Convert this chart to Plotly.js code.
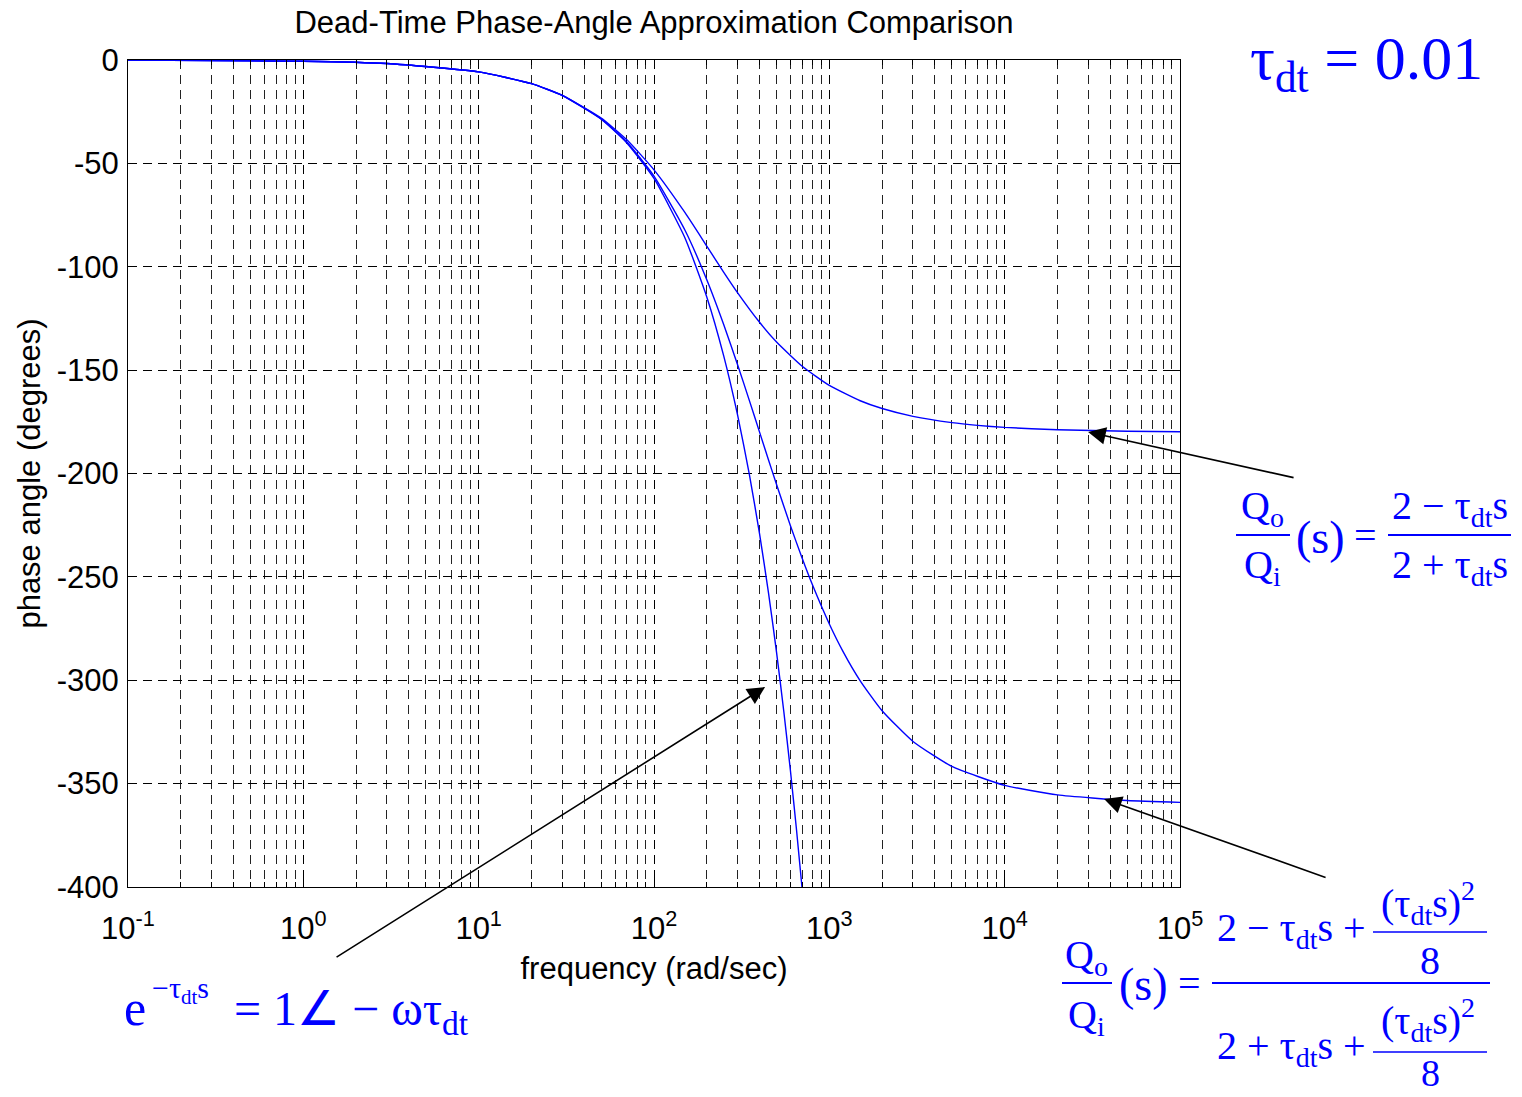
<!DOCTYPE html>
<html>
<head>
<meta charset="utf-8">
<script src="https://cdn.plot.ly/plotly-3.0.1.min.js"></script>
<style>
  html, body { margin: 0; padding: 0; background: #fff; }
  #chart { width: 1522px; height: 1097px; }
</style>
</head>
<body>
<div id="chart"></div>
<script>
// Frequency (rad/sec) and phase angle (degrees) for tau_dt = 0.01

// exact dead time: e^(-tau s)
const freqExact  = [0.1, 1, 3, 10, 20, 30, 50, 70, 100, 150, 200, 250, 300, 350, 400, 450, 500, 550, 600, 650, 700];
const phaseExact = [-0.057, -0.573, -1.719, -5.73, -11.46, -17.19, -28.65, -40.11, -57.30, -85.94, -114.59,
                    -143.24, -171.89, -200.54, -229.18, -257.83, -286.48, -315.13, -343.77, -372.42, -401.07];

// first-order approximation (2 - tau s)/(2 + tau s)
const freqPade1  = [0.1, 1, 3, 10, 20, 30, 50, 70, 100, 150, 200, 250, 300, 400, 500, 700, 1000, 1500, 2000,
                    3000, 5000, 7000, 1e4, 2e4, 5e4, 1e5];
const phasePade1 = [-0.057, -0.573, -1.719, -5.725, -11.421, -17.061, -28.072, -38.580, -53.130, -73.740, -90.000,
                    -102.680, -112.620, -126.870, -136.397, -148.108, -157.380, -164.810, -168.578,
                    -172.371, -175.419, -176.727, -177.710, -178.854, -179.542, -179.771];

// second-order approximation
const freqPade2  = [0.1, 1, 3, 10, 20, 30, 50, 70, 100, 150, 200, 250, 300, 350, 400, 450, 500, 600, 700, 800,
                    1000, 1200, 1500, 2000, 3000, 5000, 1e4, 2e4, 5e4, 1e5];
const phasePade2 = [-0.057, -0.573, -1.719, -5.728, -11.450, -17.157, -28.500, -39.705, -56.145, -82.22, -106.26,
                    -128.03, -147.48, -164.74, -180.00, -193.46, -205.36, -225.24, -241.02, -253.74,
                    -272.79, -286.26, -300.27, -314.75, -329.61, -341.69, -350.84, -355.42, -358.17, -359.08];

// axis ticks
const xTickVals = [0.1, 1, 10, 100, 1000, 10000, 100000];
const xTickText = ['10<sup>-1</sup>', '10<sup>0</sup>', '10<sup>1</sup>', '10<sup>2</sup>',
                   '10<sup>3</sup>', '10<sup>4</sup>', '10<sup>5</sup>'];
const yTickVals = [0, -50, -100, -150, -200, -250, -300, -350, -400];
const yTickText = ['0', '-50', '-100', '-150', '-200', '-250', '-300', '-350', '-400'];

// minor log grid positions 2..9 in each decade
const xMinorVals = [];
for (let d = -1; d < 5; d++) {
  for (let k = 2; k <= 9; k++) xMinorVals.push(k * Math.pow(10, d));
}

const SANS = 'Liberation Sans, Arial, Helvetica, sans-serif';
const SERIF = 'Liberation Serif, Times New Roman, serif';
const BLUE = '#0000ff';
const DASH = '9px,6px';
const FS = 31;

// plot area in page pixels
const PL = 128, PR = 1180, PT = 60, PB = 887;
const px = x => (x - PL) / (PR - PL);
const py = y => (PB - y) / (PB - PT);

const lineStyle = { color: BLUE, width: 1.4, shape: 'spline', smoothing: 0.5 };
const traces = [
  { x: freqExact, y: phaseExact, type: 'scatter', mode: 'lines', line: lineStyle, hoverinfo: 'x+y' },
  { x: freqPade1, y: phasePade1, type: 'scatter', mode: 'lines', line: lineStyle, hoverinfo: 'x+y' },
  { x: freqPade2, y: phasePade2, type: 'scatter', mode: 'lines', line: lineStyle, hoverinfo: 'x+y' }
];

function mathText(text, x, y, size, xanchor) {
  return {
    xref: 'paper', yref: 'paper', x: px(x), y: py(y), text: text,
    showarrow: false, xanchor: xanchor || 'center', yanchor: 'middle',
    font: { family: SERIF, size: size, color: BLUE }
  };
}
function bar(x0, x1, y, w) {
  return {
    type: 'line', xref: 'paper', yref: 'paper', x0: px(x0), x1: px(x1), y0: py(y), y1: py(y),
    line: { color: BLUE, width: w || 2 }
  };
}
function arrow(freq, phase, ax, ay) {
  return {
    x: Math.log10(freq), y: phase, xref: 'x', yref: 'y', text: '', showarrow: true,
    arrowhead: 2, arrowsize: 2.2, arrowwidth: 1.6, arrowcolor: 'black', ax: ax, ay: ay
  };
}

const annotations = [
  // arrows pointing at the three curves
  arrow(29900, -179.9, 207, 46),
  arrow(36900, -357.4, 223, 79),
  arrow(430, -303.3, -430, 271),

  // tau value
  mathText('τ<sub>dt</sub> = 0.01', 1366, 62, 62),

  // first-order transfer function
  mathText('Q<sub>o</sub>', 1262, 508, 40),
  mathText('Q<sub>i</sub>', 1262, 567, 40),
  mathText('(s)', 1320, 537, 46),
  mathText('=', 1365, 535, 40),
  mathText('2 − τ<sub>dt</sub>s', 1450, 508, 40),
  mathText('2 + τ<sub>dt</sub>s', 1450, 567, 40),

  // second-order transfer function
  mathText('Q<sub>o</sub>', 1086, 957, 40),
  mathText('Q<sub>i</sub>', 1086, 1017, 40),
  mathText('(s)', 1143, 985, 46),
  mathText('=', 1189, 983, 40),
  mathText('2 − τ<sub>dt</sub>s +', 1215, 930, 40, 'left'),
  mathText('(τ<sub>dt</sub>s)<sup>2</sup>', 1428, 903, 40),
  mathText('8', 1430, 960, 40),
  mathText('2 + τ<sub>dt</sub>s +', 1215, 1048, 40, 'left'),
  mathText('(τ<sub>dt</sub>s)<sup>2</sup>', 1428, 1020, 40),
  mathText('8', 1430, 1073, 38),

  // dead-time expression
  mathText('e', 122, 1008, 50, 'left'),
  mathText('−τ<sub>dt</sub>s', 150, 990, 30, 'left'),
  mathText('= 1∠ − ωτ<sub>dt</sub>', 232, 1012, 48, 'left')
];

const shapes = [
  bar(1236, 1290, 535), bar(1388, 1511, 535),
  bar(1062, 1112, 983), bar(1212, 1490, 983),
  bar(1373, 1487, 932, 1.5), bar(1373, 1487, 1052, 1.5)
];

const axisCommon = {
  showline: true, linecolor: 'black', linewidth: 1, mirror: 'ticks',
  ticks: 'inside', ticklen: 9, tickcolor: 'black', tickwidth: 1,
  showgrid: true, gridcolor: 'black', gridwidth: 1, griddash: DASH,
  zeroline: false, tickfont: { family: SANS, size: FS, color: 'black' }
};

const layout = {
  width: 1522, height: 1097,
  margin: { l: PL, r: 1522 - PR, t: PT, b: 1097 - PB, pad: 0 },
  paper_bgcolor: '#ffffff', plot_bgcolor: '#ffffff',
  showlegend: false,
  title: {
    text: 'Dead-Time Phase-Angle Approximation Comparison',
    font: { family: SANS, size: FS, color: 'black' },
    xref: 'paper', x: 0.5, xanchor: 'center',
    yref: 'container', y: 1 - 22 / 1097, yanchor: 'middle'
  },
  xaxis: Object.assign({}, axisCommon, {
    type: 'log', range: [-1, 5], tickmode: 'array', tickvals: xTickVals, ticktext: xTickText,
    ticklabelstandoff: 14,
    minor: { tickmode: 'array', tickvals: xMinorVals, showgrid: true, gridcolor: '#222', gridwidth: 1,
             griddash: DASH, ticks: 'inside', ticklen: 5, tickcolor: 'black' },
    title: { text: 'frequency (rad/sec)', font: { family: SANS, size: FS, color: 'black' }, standoff: 12 }
  }),
  yaxis: Object.assign({}, axisCommon, {
    range: [-400, 0], tickmode: 'array', tickvals: yTickVals, ticktext: yTickText,
    ticklabelstandoff: 2,
    title: { text: 'phase angle (degrees)', font: { family: SANS, size: FS, color: 'black' }, standoff: 6 }
  }),
  annotations: annotations,
  shapes: shapes
};

Plotly.newPlot('chart', traces, layout, { displayModeBar: false, staticPlot: true });
</script>
</body>
</html>
